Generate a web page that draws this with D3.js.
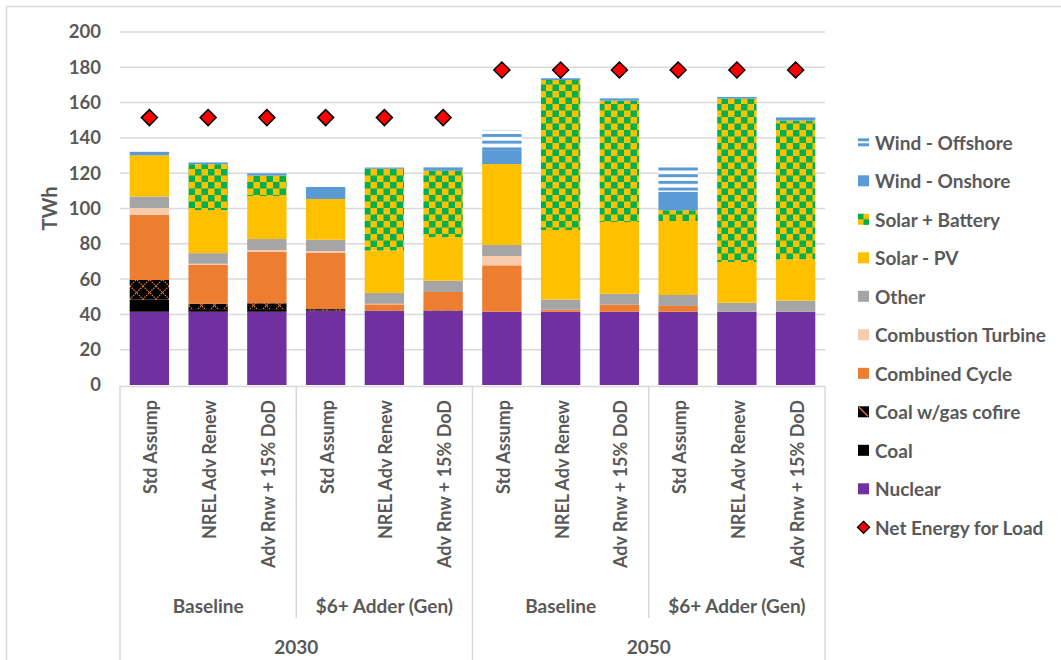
<!DOCTYPE html>
<html><head><meta charset="utf-8">
<script src="https://cdn.jsdelivr.net/npm/d3@7"></script>
<style>
html,body{margin:0;padding:0;background:#fff;}
text{font-family:Lato,"Open Sans",sans-serif;font-weight:700;fill:#595959;}
</style></head>
<body><svg id="c" width="1061" height="660"></svg>
<script>
// ---------- data ----------
const categories = ["Std Assump","NREL Adv Renew","Adv Rnw + 15% DoD",
                    "Std Assump","NREL Adv Renew","Adv Rnw + 15% DoD",
                    "Std Assump","NREL Adv Renew","Adv Rnw + 15% DoD",
                    "Std Assump","NREL Adv Renew","Adv Rnw + 15% DoD"];
const groups = ["Baseline","$6+ Adder (Gen)","Baseline","$6+ Adder (Gen)"];
const years = ["2030","2050"];
const yTicks = [0,20,40,60,80,100,120,140,160,180,200];

const nuclear  = [41.5,41.5,41.5,41.9,41.9,41.9,41.5,41.5,41.5,41.5,41.5,41.5];
const coal     = [7.0,1.5,1.5,0.3,0,0,0,0,0,0,0,0];
const cofire   = [11.0,3.0,3.3,0.8,0.2,0.3,0,0,0,0,0,0];
const combCyc  = [37.0,22.0,29.2,32.0,3.6,10.5,26.3,1.2,4.0,3.3,0,0];
const combTurb = [3.8,0.7,1.0,0.9,0.3,0,5.3,0,0,0,0,0];
const other    = [6.5,6.0,6.2,6.4,6.2,6.4,6.2,5.7,6.2,6.2,5.1,6.3];
const solarPV  = [23.3,24.4,24.3,23.1,24.0,24.6,45.9,39.4,40.7,41.9,23.1,23.4];
const solarBat = [0,26.0,11.6,0,46.3,37.7,0,85.0,68.7,6.1,92.5,78.6];
const windOn   = [2.0,1.0,1.3,6.8,0.7,1.9,7.9,1.0,1.3,10.5,1.0,1.8];
const windOff  = [0,0,0,0,0,0,11.4,0,0,15.6,0,0];
const netLoad  = [151.5,151.5,151.5,151.5,151.5,151.5,178.5,178.5,178.5,178.5,178.5,178.5];

const seriesNames = ["Nuclear","Coal","Coal w/gas cofire","Combined Cycle","Combustion Turbine",
                     "Other","Solar - PV","Solar + Battery","Wind - Onshore","Wind - Offshore"];
const seriesData = [nuclear,coal,cofire,combCyc,combTurb,other,solarPV,solarBat,windOn,windOff];
const fills = ["#7030A0","#000000","url(#pCofire)","#ED7D31","#F8CBAD","#A5A5A5","#FFC000",
               "url(#pChecker)","#5B9BD5","url(#pStripes)"];

// ---------- setup ----------
const svg = d3.select("#c");
const defs = svg.append("defs");
const pc = defs.append("pattern").attr("id","pChecker").attr("patternUnits","userSpaceOnUse")
  .attr("width",13).attr("height",13);
pc.append("rect").attr("width",13).attr("height",13).attr("fill","#FFC000");
pc.append("rect").attr("width",6.5).attr("height",6.5).attr("fill","#00B050");
pc.append("rect").attr("x",6.5).attr("y",6.5).attr("width",6.5).attr("height",6.5).attr("fill","#00B050");
const pf = defs.append("pattern").attr("id","pCofire").attr("patternUnits","userSpaceOnUse")
  .attr("width",13).attr("height",13);
pf.append("rect").attr("width",13).attr("height",13).attr("fill","#000");
pf.append("path").attr("d","M0,0L13,13M13,0L0,13").attr("stroke","#ED7D31").attr("stroke-width",1.2)
  .attr("stroke-dasharray","1.5,1");
const ps = defs.append("pattern").attr("id","pStripes").attr("patternUnits","userSpaceOnUse")
  .attr("width",10).attr("height",6.7);
ps.append("rect").attr("width",10).attr("height",6.7).attr("fill","#fff");
ps.append("rect").attr("width",10).attr("height",3).attr("fill","#5B9BD5");

svg.append("rect").attr("x",6.5).attr("y",6.5).attr("width",1100).attr("height",700)
  .attr("fill","none").attr("stroke","#d9d9d9").attr("stroke-width",1.5);

const L=120,R=825,T=32,B=385;
const x = d3.scaleBand().domain(d3.range(categories.length)).range([L,R]).paddingInner(0.33).paddingOuter(0.165);
const y = d3.scaleLinear().domain([0,200]).range([B,T]);

svg.append("g").selectAll("line").data(yTicks.filter(d=>d>0)).join("line")
  .attr("x1",L).attr("x2",R).attr("y1",d=>y(d)).attr("y2",d=>y(d))
  .attr("stroke","#d9d9d9").attr("stroke-width",1.5);

const yAxis = svg.append("g").attr("transform",`translate(${L-19},0)`)
  .call(d3.axisLeft(y).tickValues(yTicks).tickSize(0).tickPadding(0));
yAxis.select(".domain").remove();
yAxis.selectAll("text").style("font-size","18.5px").style("font-family","Lato").style("font-weight","700").attr("fill","#595959");

svg.append("text").attr("transform",`translate(49,${(T+B)/2}) rotate(-90)`)
  .attr("text-anchor","middle").attr("dominant-baseline","central").style("font-size","20px").text("TWh");

const stackData = categories.map((c,i)=>{const o={i}; seriesNames.forEach((s,k)=>o[s]=seriesData[k][i]); return o;});
const stack = d3.stack().keys(seriesNames)(stackData);
svg.append("g").selectAll("g").data(stack).join("g")
  .attr("fill",(d,k)=>fills[k])
  .selectAll("rect").data(d=>d).join("rect")
  .attr("x",d=>x(d.data.i)).attr("width",x.bandwidth())
  .attr("y",d=>y(d[1])).attr("height",d=>Math.max(0,y(d[0])-y(d[1])));

const ds = 8;
svg.append("g").selectAll("path").data(netLoad).join("path")
  .attr("d",(d,i)=>{const cx=x(i)+x.bandwidth()/2, cy=y(d); return `M${cx},${cy-ds}L${cx+ds},${cy}L${cx},${cy+ds}L${cx-ds},${cy}Z`;})
  .attr("fill","#FF0000").attr("stroke","#000").attr("stroke-width",1.5);

const ax = svg.append("g");
ax.append("line").attr("x1",L).attr("x2",R).attr("y1",B+1.5).attr("y2",B+1.5).attr("stroke","#d9d9d9").attr("stroke-width",1.5);
const step = x.step();
const gBounds = d3.range(groups.length+1).map(k=>L+k*3*step);
gBounds.forEach((bx,k)=>{
  const bottom = (k%2===0)?660:618;
  ax.append("line").attr("x1",bx).attr("x2",bx).attr("y1",B+1).attr("y2",bottom)
    .attr("stroke","#d9d9d9").attr("stroke-width",1.5);
});
ax.selectAll("text.cat").data(categories).join("text").attr("class","cat")
  .attr("transform",(d,i)=>`translate(${x(i)+x.bandwidth()/2+1},400) rotate(-90)`)
  .attr("text-anchor","end").attr("dominant-baseline","central").style("font-size","18px").text(d=>d);
ax.selectAll("text.grp").data(groups).join("text").attr("class","grp")
  .attr("x",(d,k)=>L+(k*3+1.5)*step).attr("y",605).attr("text-anchor","middle")
  .attr("dominant-baseline","central").style("font-size","19px").text(d=>d);
ax.selectAll("text.yr").data(years).join("text").attr("class","yr")
  .attr("x",(d,k)=>L+(k*6+3)*step).attr("y",646).attr("text-anchor","middle")
  .attr("dominant-baseline","central").style("font-size","19px").text(d=>d);

const legendItems = seriesNames.slice().reverse().concat(["Net Energy for Load"]);
const legendFills = fills.slice().reverse();
const lg = svg.append("g");
legendItems.forEach((name,k)=>{
  const cy = 142.3 + k*38.5;
  const g = lg.append("g");
  if(k<legendFills.length){
    if(name==="Wind - Offshore"){
      g.append("rect").attr("x",858).attr("y",cy-4).attr("width",11).attr("height",3).attr("fill","#5B9BD5");
      g.append("rect").attr("x",858).attr("y",cy+1).attr("width",11).attr("height",3).attr("fill","#5B9BD5");
    } else if(name==="Solar + Battery"){
      g.append("rect").attr("x",858).attr("y",cy-5.5).attr("width",11).attr("height",11).attr("fill","#FFC000");
      g.append("rect").attr("x",858).attr("y",cy-5.5).attr("width",5.5).attr("height",5.5).attr("fill","#00B050");
      g.append("rect").attr("x",863.5).attr("y",cy).attr("width",5.5).attr("height",5.5).attr("fill","#00B050");
    } else if(name==="Coal w/gas cofire"){
      g.append("rect").attr("x",858).attr("y",cy-5.5).attr("width",11).attr("height",11).attr("fill","#000");
      g.append("path").attr("d",`M${859},${cy-4.5}L${868},${cy+4.5}`).attr("stroke","#ED7D31").attr("stroke-width",1.3);
    } else {
      g.append("rect").attr("x",858).attr("y",cy-5.5).attr("width",11).attr("height",11).attr("fill",legendFills[k]);
    }
  } else {
    g.append("path").attr("d",`M863.5,${cy-6}L869.5,${cy}L863.5,${cy+6}L857.5,${cy}Z`)
      .attr("fill","#FF0000").attr("stroke","#000").attr("stroke-width",1.3);
  }
  g.append("text").attr("x",875).attr("y",cy).attr("dominant-baseline","central")
    .style("font-size","19px").text(name);
});
</script></body></html>
